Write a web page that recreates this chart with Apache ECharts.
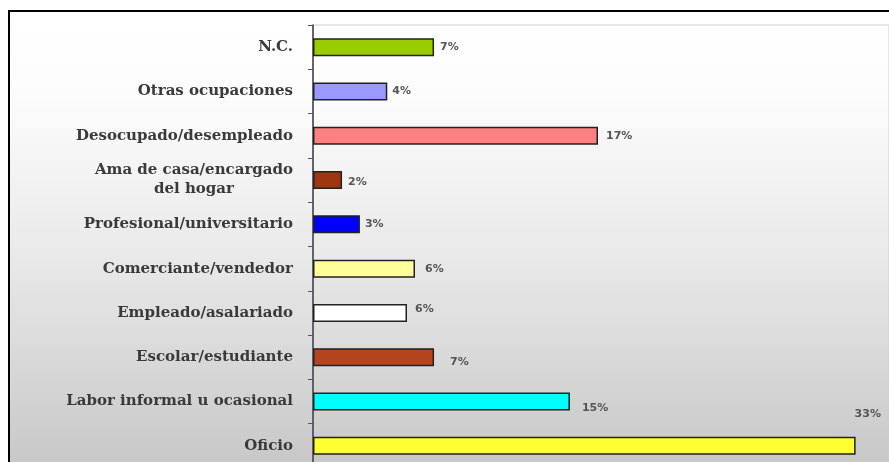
<!DOCTYPE html>
<html>
<head>
<meta charset="utf-8">
<script src="https://cdn.jsdelivr.net/npm/echarts@6/dist/echarts.min.js"></script>
<style>
html,body{margin:0;padding:0;background:#fff;}
#chart{width:889px;height:462px;}
</style>
</head>
<body>
<div id="chart"></div>
<script>
// Categories, top to bottom
var categories = [
  'N.C.',
  'Otras ocupaciones',
  'Desocupado/desempleado',
  'Ama de casa/encargado\ndel hogar',
  'Profesional/universitario',
  'Comerciante/vendedor',
  'Empleado/asalariado',
  'Escolar/estudiante',
  'Labor informal u ocasional',
  'Oficio'
];
// Percent values (labels show rounded values)
var values = [7.25, 4.45, 17.07, 1.74, 2.81, 6.11, 5.63, 7.25, 15.39, 32.5];

// Styling (not data)
var barColors = ['#99cc00', '#9999ff', '#ff8080', '#9e3510', '#0000ff', '#ffff99', '#ffffff', '#b4441e', '#00ffff', '#ffff33'];
var labelOffsets = [[1,0],[0,0],[3,0],[1,2],[0,0],[5,0],[3,-4],[11,5],[7,7],[-6,-32]];

var chart = echarts.init(document.getElementById('chart'), null, {renderer: 'canvas'});

var seriesData = values.map(function (v, i) {
  return {
    value: v,
    itemStyle: {color: barColors[i]},
    label: {offset: labelOffsets[i]}
  };
});

var option = {
  animation: false,
  backgroundColor: '#ffffff',
  graphic: [{
    type: 'rect',
    z: -10,
    silent: true,
    shape: {x: 9, y: 11, width: 920, height: 480},
    style: {
      fill: new echarts.graphic.LinearGradient(0, 0, 0, 1, [
        {offset: 0, color: '#ffffff'},
        {offset: 0.18, color: '#fcfcfc'},
        {offset: 0.5, color: '#eaeaea'},
        {offset: 0.94, color: '#c8c8c8'},
        {offset: 1, color: '#c6c6c6'}
      ]),
      stroke: '#000000',
      lineWidth: 2
    }
  }],
  grid: {
    left: 313,
    top: 25,
    width: 576,
    height: 443,
    outerBoundsMode: 'none',
    show: true,
    borderColor: '#cfcfcf',
    borderWidth: 1,
    backgroundColor: 'transparent',
    containLabel: false
  },
  xAxis: {
    type: 'value',
    min: 0,
    max: 34.5,
    show: false
  },
  yAxis: {
    type: 'category',
    inverse: true,
    data: categories,
    axisLine: {show: true, lineStyle: {color: '#3a3a48', width: 1.5}},
    axisTick: {show: true, length: 5, lineStyle: {color: '#555555'}},
    axisLabel: {
      margin: 20,
      color: '#3a3a3a',
      fontFamily: 'DejaVu Serif',
      fontWeight: 'bold',
      fontSize: 15,
      lineHeight: 19,
      formatter: function (v) {
        return v.split('\n').map(function (s) { return '{c|' + s + '}'; }).join('\n');
      },
      rich: {
        c: {
          align: 'center',
          color: '#3a3a3a',
          fontFamily: 'DejaVu Serif',
          fontWeight: 'bold',
          fontSize: 15,
          lineHeight: 19
        }
      }
    }
  },
  series: [{
    type: 'bar',
    data: seriesData,
    barWidth: 18,
    itemStyle: {borderColor: '#222222', borderWidth: 1.5},
    label: {
      show: true,
      position: 'right',
      distance: 5,
      color: '#555555',
      fontFamily: 'DejaVu Sans',
      fontWeight: 'bold',
      fontSize: 11,
      formatter: function (p) { return Math.round(p.value) + '%'; }
    }
  }]
};

chart.setOption(option);
</script>
</body>
</html>
